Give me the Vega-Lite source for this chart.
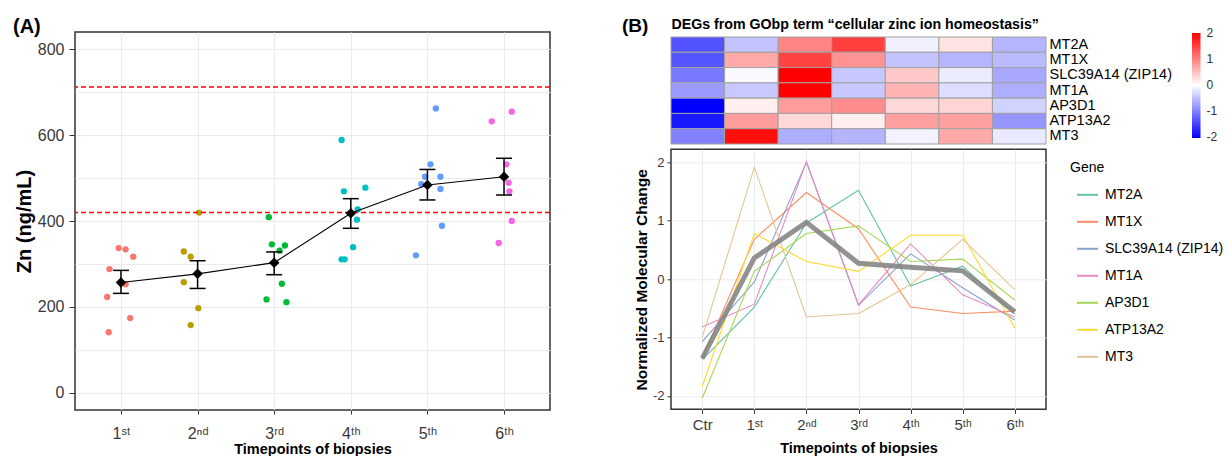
{
  "$schema": "https://vega.github.io/schema/vega-lite/v6.json",
  "padding": {"left": 12, "top": 16, "right": 0, "bottom": 0},
  "bounds": "flush",
  "spacing": 121,
  "config": {
    "font": "Liberation Sans",
    "view": {"stroke": "#333333", "strokeWidth": 1.5},
    "axis": {"gridColor": "#EBEBEB", "gridWidth": 1, "tickColor": "#333333", "domain": false, "labelColor": "#3A3A3A", "titleColor": "#000000", "titleFontWeight": "bold"}
  },
  "datasets": {
    "pts": [
      {"tp": 1, "t": 0.97, "zn": 337}, {"tp": 1, "t": 1.06, "zn": 334}, {"tp": 1, "t": 1.16, "zn": 317}, {"tp": 1, "t": 0.85, "zn": 288},
      {"tp": 1, "t": 1.06, "zn": 253}, {"tp": 1, "t": 0.82, "zn": 223}, {"tp": 1, "t": 1.12, "zn": 174}, {"tp": 1, "t": 0.84, "zn": 141},
      {"tp": 2, "t": 2.02, "zn": 419.5}, {"tp": 2, "t": 1.82, "zn": 329}, {"tp": 2, "t": 1.91, "zn": 317}, {"tp": 2, "t": 1.82, "zn": 257.5},
      {"tp": 2, "t": 2.01, "zn": 197}, {"tp": 2, "t": 1.91, "zn": 157.6},
      {"tp": 3, "t": 2.93, "zn": 409}, {"tp": 3, "t": 2.97, "zn": 345.7}, {"tp": 3, "t": 3.14, "zn": 343}, {"tp": 3, "t": 3.07, "zn": 331},
      {"tp": 3, "t": 3.10, "zn": 254}, {"tp": 3, "t": 2.90, "zn": 217.5}, {"tp": 3, "t": 3.16, "zn": 211},
      {"tp": 4, "t": 3.88, "zn": 588.6}, {"tp": 4, "t": 3.91, "zn": 469}, {"tp": 4, "t": 4.19, "zn": 477.5}, {"tp": 4, "t": 4.09, "zn": 427},
      {"tp": 4, "t": 4.08, "zn": 403}, {"tp": 4, "t": 4.03, "zn": 339}, {"tp": 4, "t": 3.88, "zn": 310.7}, {"tp": 4, "t": 3.92, "zn": 310.7},
      {"tp": 5, "t": 5.11, "zn": 662}, {"tp": 5, "t": 5.04, "zn": 532}, {"tp": 5, "t": 4.97, "zn": 503}, {"tp": 5, "t": 5.17, "zn": 503},
      {"tp": 5, "t": 4.92, "zn": 486}, {"tp": 5, "t": 5.17, "zn": 474.5}, {"tp": 5, "t": 5.19, "zn": 389}, {"tp": 5, "t": 4.85, "zn": 320},
      {"tp": 6, "t": 6.10, "zn": 654.5}, {"tp": 6, "t": 5.84, "zn": 632}, {"tp": 6, "t": 6.03, "zn": 532}, {"tp": 6, "t": 6.06, "zn": 489},
      {"tp": 6, "t": 6.07, "zn": 469}, {"tp": 6, "t": 6.10, "zn": 400}, {"tp": 6, "t": 5.93, "zn": 348.7}
    ],
    "means": [
      {"t": 1, "mean": 257, "lo": 231.5, "hi": 285},
      {"t": 2, "mean": 277, "lo": 243, "hi": 307.5},
      {"t": 3, "mean": 303, "lo": 275, "hi": 328},
      {"t": 4, "mean": 418, "lo": 383, "hi": 452},
      {"t": 5, "mean": 484, "lo": 449, "hi": 520},
      {"t": 6, "mean": 503, "lo": 460.5, "hi": 546}
    ],
    "refs": [{"zn": 420}, {"zn": 712}],
    "genes": [
      {"gene": "MT2A", "t": 0, "value": -1.38}, {"gene": "MT2A", "t": 1, "value": -0.48}, {"gene": "MT2A", "t": 2, "value": 0.96}, {"gene": "MT2A", "t": 3, "value": 1.52}, {"gene": "MT2A", "t": 4, "value": -0.12}, {"gene": "MT2A", "t": 5, "value": 0.22}, {"gene": "MT2A", "t": 6, "value": -0.6},
      {"gene": "MT1X", "t": 0, "value": -1.35}, {"gene": "MT1X", "t": 1, "value": 0.68}, {"gene": "MT1X", "t": 2, "value": 1.48}, {"gene": "MT1X", "t": 3, "value": 0.86}, {"gene": "MT1X", "t": 4, "value": -0.48}, {"gene": "MT1X", "t": 5, "value": -0.59}, {"gene": "MT1X", "t": 6, "value": -0.55},
      {"gene": "SLC39A14 (ZIP14)", "t": 0, "value": -1.07}, {"gene": "SLC39A14 (ZIP14)", "t": 1, "value": -0.05}, {"gene": "SLC39A14 (ZIP14)", "t": 2, "value": 2.0}, {"gene": "SLC39A14 (ZIP14)", "t": 3, "value": -0.45}, {"gene": "SLC39A14 (ZIP14)", "t": 4, "value": 0.43}, {"gene": "SLC39A14 (ZIP14)", "t": 5, "value": -0.15}, {"gene": "SLC39A14 (ZIP14)", "t": 6, "value": -0.7},
      {"gene": "MT1A", "t": 0, "value": -0.82}, {"gene": "MT1A", "t": 1, "value": -0.43}, {"gene": "MT1A", "t": 2, "value": 2.01}, {"gene": "MT1A", "t": 3, "value": -0.44}, {"gene": "MT1A", "t": 4, "value": 0.6}, {"gene": "MT1A", "t": 5, "value": -0.27}, {"gene": "MT1A", "t": 6, "value": -0.65},
      {"gene": "AP3D1", "t": 0, "value": -2.04}, {"gene": "AP3D1", "t": 1, "value": 0.13}, {"gene": "AP3D1", "t": 2, "value": 0.78}, {"gene": "AP3D1", "t": 3, "value": 0.91}, {"gene": "AP3D1", "t": 4, "value": 0.3}, {"gene": "AP3D1", "t": 5, "value": 0.34}, {"gene": "AP3D1", "t": 6, "value": -0.36},
      {"gene": "ATP13A2", "t": 0, "value": -1.84}, {"gene": "ATP13A2", "t": 1, "value": 0.78}, {"gene": "ATP13A2", "t": 2, "value": 0.3}, {"gene": "ATP13A2", "t": 3, "value": 0.13}, {"gene": "ATP13A2", "t": 4, "value": 0.75}, {"gene": "ATP13A2", "t": 5, "value": 0.75}, {"gene": "ATP13A2", "t": 6, "value": -0.84},
      {"gene": "MT3", "t": 0, "value": -1.0}, {"gene": "MT3", "t": 1, "value": 1.91}, {"gene": "MT3", "t": 2, "value": -0.65}, {"gene": "MT3", "t": 3, "value": -0.59}, {"gene": "MT3", "t": 4, "value": -0.1}, {"gene": "MT3", "t": 5, "value": 0.68}, {"gene": "MT3", "t": 6, "value": -0.18}
    ],
    "meanB": [
      {"t": 0, "value": -1.36}, {"t": 1, "value": 0.36}, {"t": 2, "value": 0.97}, {"t": 3, "value": 0.27},
      {"t": 4, "value": 0.2}, {"t": 5, "value": 0.14}, {"t": 6, "value": -0.56}
    ]
  },
  "hconcat": [
    {
      "width": 475,
      "height": 378,
      "title": {"text": "(A)", "anchor": "start", "frame": "group", "dx": -62, "dy": 5, "offset": 0, "fontSize": 20, "fontWeight": "bold", "color": "#000000"},
      "layer": [
        {
          "data": {"name": "pts"},
          "mark": {"type": "circle", "size": 40, "opacity": 1},
          "encoding": {
            "x": {"field": "t", "type": "quantitative", "scale": {"domain": [0.4, 6.6], "nice": false, "zero": false},
              "axis": {"values": [1, 2, 3, 4, 5, 6], "labelExpr": "['', '1ˢᵗ', '2ⁿᵈ', '3ʳᵈ', '4ᵗʰ', '5ᵗʰ', '6ᵗʰ'][datum.value]", "title": "Timepoints of biopsies", "titleFontSize": 14.5, "labelFontSize": 16, "tickSize": 4, "labelPadding": 11, "titlePadding": 1, "grid": true}},
            "y": {"field": "zn", "type": "quantitative", "scale": {"domain": [-40, 840], "nice": false, "zero": false},
              "axis": {"values": [0, 100, 200, 300, 400, 500, 600, 700, 800], "labelExpr": "datum.value % 200 === 0 ? '' + datum.value : ''", "tickOpacity": {"condition": {"test": "datum.value % 200 === 0", "value": 1}, "value": 0}, "title": "Zn (ng/mL)", "titleFontSize": 20, "labelFontSize": 16, "tickSize": 6, "labelPadding": 5, "titlePadding": 3, "grid": true}},
            "color": {"field": "tp", "type": "nominal", "scale": {"domain": [1, 2, 3, 4, 5, 6], "range": ["#F8766D", "#B79F00", "#00BA38", "#00BFC4", "#619CFF", "#F564E3"]}, "legend": null}
          }
        },
        {
          "data": {"name": "refs"},
          "mark": {"type": "rule", "color": "#FF0000", "strokeDash": [5, 3], "strokeWidth": 1.5},
          "encoding": {"y": {"field": "zn", "type": "quantitative"}}
        },
        {
          "data": {"name": "means"},
          "mark": {"type": "line", "color": "#000000", "strokeWidth": 1.1},
          "encoding": {"x": {"field": "t", "type": "quantitative"}, "y": {"field": "mean", "type": "quantitative"}}
        },
        {
          "data": {"name": "means"},
          "mark": {"type": "rule", "color": "#000000", "strokeWidth": 1.5},
          "encoding": {"x": {"field": "t", "type": "quantitative"}, "y": {"field": "lo", "type": "quantitative"}, "y2": {"field": "hi"}}
        },
        {
          "data": {"name": "means"},
          "mark": {"type": "tick", "color": "#000000", "orient": "horizontal", "size": 16, "thickness": 1.5, "opacity": 1},
          "encoding": {"x": {"field": "t", "type": "quantitative"}, "y": {"field": "lo", "type": "quantitative"}}
        },
        {
          "data": {"name": "means"},
          "mark": {"type": "tick", "color": "#000000", "orient": "horizontal", "size": 16, "thickness": 1.5, "opacity": 1},
          "encoding": {"x": {"field": "t", "type": "quantitative"}, "y": {"field": "hi", "type": "quantitative"}}
        },
        {
          "data": {"name": "means"},
          "mark": {"type": "point", "shape": "diamond", "filled": true, "color": "#000000", "size": 110, "opacity": 1},
          "encoding": {"x": {"field": "t", "type": "quantitative"}, "y": {"field": "mean", "type": "quantitative"}}
        }
      ]
    },
    {
      "bounds": "flush",
      "spacing": 5.3,
      "resolve": {"scale": {"color": "independent", "x": "independent", "y": "independent"}, "legend": {"color": "independent"}},
      "vconcat": [
        {
          "width": 375,
          "height": 112,
          "view": {"stroke": null},
          "title": {"text": "(B)", "anchor": "start", "frame": "group", "dx": -49, "dy": 23, "fontSize": 19, "fontWeight": "bold", "color": "#000000"},
          "data": {"name": "genes"},
          "mark": {"type": "rect", "stroke": "#A0A0A0", "strokeWidth": 1},
          "encoding": {
            "x": {"field": "t", "type": "ordinal", "scale": {"paddingInner": 0, "paddingOuter": 0},
              "axis": {"orient": "top", "labels": false, "ticks": false, "domain": false, "title": "DEGs from GObp term “cellular zinc ion homeostasis”", "titleAnchor": "start", "titleFontSize": 14.2, "titlePadding": 1, "titleColor": "#000000"}},
            "y": {"field": "gene", "type": "nominal", "sort": ["MT2A", "MT1X", "SLC39A14 (ZIP14)", "MT1A", "AP3D1", "ATP13A2", "MT3"], "scale": {"range": [5, 112], "paddingInner": 0, "paddingOuter": 0},
              "axis": {"orient": "right", "title": null, "ticks": false, "domain": false, "labelFontSize": 14.5, "labelColor": "#000000", "labelPadding": 3}},
            "color": {"field": "value", "type": "quantitative", "scale": {"domain": [-2.04, 0, 2.01], "range": ["#0000FF", "#FFFFFF", "#FF0000"], "interpolate": "rgb"},
              "legend": {"orient": "none", "legendX": 521, "legendY": 1, "title": null, "direction": "vertical", "gradientLength": 105, "gradientThickness": 8.5, "gradientStrokeWidth": 0, "labelFontSize": 12, "labelColor": "#333333", "values": [-2, -1, 0, 1, 2], "labelExpr": "'' + datum.value", "padding": 0, "labelOffset": 6}}
          }
        },
        {
          "width": 375,
          "height": 260,
          "layer": [
            {
              "data": {"name": "genes"},
              "mark": {"type": "line", "strokeWidth": 1.1},
              "encoding": {
                "x": {"field": "t", "type": "quantitative", "scale": {"domain": [-0.6, 6.6], "nice": false, "zero": false},
                  "axis": {"values": [0, 1, 2, 3, 4, 5, 6], "labelExpr": "['Ctr', '1ˢᵗ', '2ⁿᵈ', '3ʳᵈ', '4ᵗʰ', '5ᵗʰ', '6ᵗʰ'][datum.value]", "title": "Timepoints of biopsies", "titleFontSize": 14.5, "labelFontSize": 15, "tickSize": 4, "labelPadding": 4, "titlePadding": 9, "grid": true}},
                "y": {"field": "value", "type": "quantitative", "scale": {"domain": [-2.23, 2.22], "nice": false, "zero": false},
                  "axis": {"values": [-2, -1.5, -1, -0.5, 0, 0.5, 1, 1.5, 2], "labelExpr": "datum.value % 1 === 0 ? '' + datum.value : ''", "tickOpacity": {"condition": {"test": "datum.value % 1 === 0", "value": 1}, "value": 0}, "title": "Normalized Molecular Change", "titleFontSize": 15.5, "labelFontSize": 13, "tickSize": 4, "labelPadding": 3, "titlePadding": 3, "grid": true}},
                "color": {"field": "gene", "type": "nominal", "scale": {"domain": ["MT2A", "MT1X", "SLC39A14 (ZIP14)", "MT1A", "AP3D1", "ATP13A2", "MT3"], "range": ["#66C2A5", "#FC8D62", "#8DA0CB", "#E78AC3", "#A6D854", "#FFD92F", "#E5C494"]},
                  "legend": {"orient": "none", "legendX": 399, "legendY": 12, "title": "Gene", "titleFontSize": 14, "titleFontWeight": "normal", "titleColor": "#000000", "titlePadding": 8, "labelFontSize": 14, "labelColor": "#000000", "symbolType": "stroke", "symbolSize": 441, "symbolStrokeWidth": 2, "symbolOffset": 6, "rowPadding": 8, "labelOffset": 6, "padding": 0}}
              }
            },
            {
              "data": {"name": "meanB"},
              "mark": {"type": "line", "color": "#7F7F7F", "strokeWidth": 5, "opacity": 0.85},
              "encoding": {"x": {"field": "t", "type": "quantitative"}, "y": {"field": "value", "type": "quantitative"}}
            }
          ]
        }
      ]
    }
  ]
}
